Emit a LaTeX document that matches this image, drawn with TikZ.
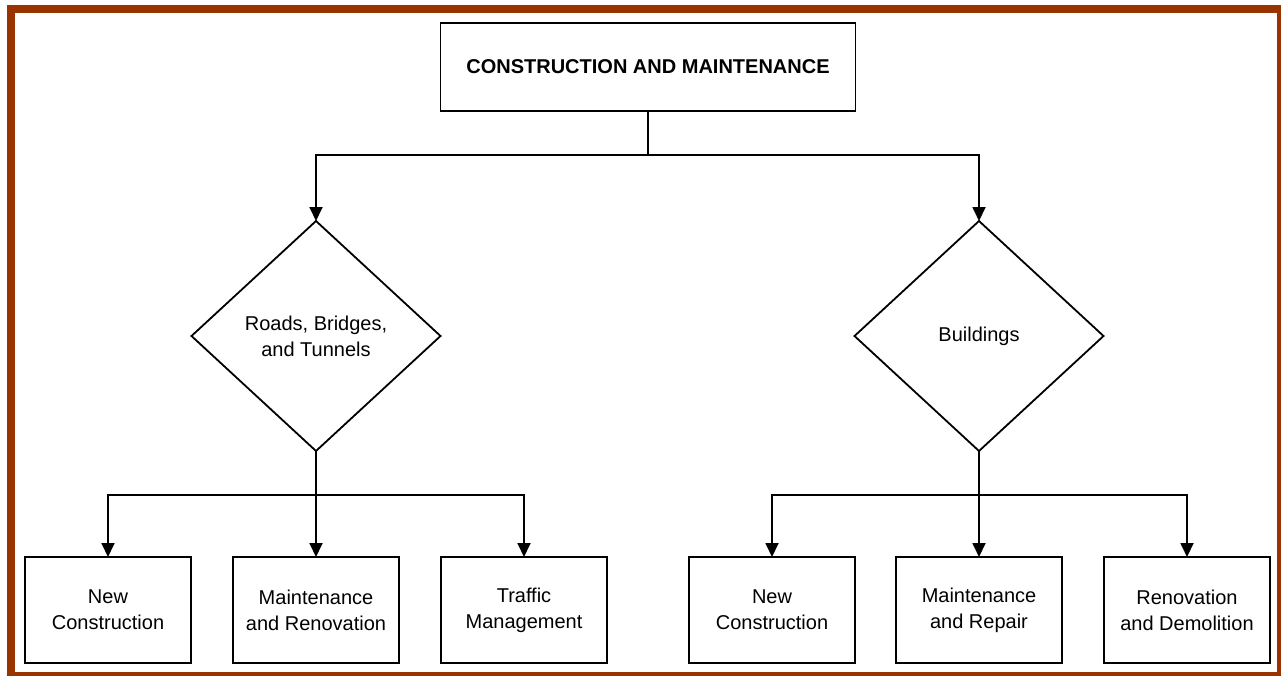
\documentclass[tikz,border=0pt]{standalone}
\usepackage{fontspec}
\setmainfont{Liberation Sans}
\usetikzlibrary{shapes.geometric, positioning, arrows.meta}
\definecolor{framebrown}{HTML}{993300}
\tikzset{
>={Triangle[width=13pt,length=14pt]},
every node/.append style={font=\fontsize{20}{26}\selectfont, align=center, outer sep=0pt},
box/.style={draw, line width=1.8pt, minimum width=166pt, minimum height=106pt, inner sep=0pt},
topbox/.style={draw, line width=1.8pt, minimum width=415pt, minimum height=88pt, font=\fontsize{20}{26}\selectfont\bfseries},
decision/.style={draw, diamond, line width=1.8pt, minimum width=249pt, minimum height=230pt, inner sep=0pt},
link/.style={line width=1.8pt},
}

\begin{document}
\begin{tikzpicture}[x=1pt, y=-1pt]
            \useasboundingbox (0,0) rectangle (1281,675);
            \draw[framebrown, line width=8pt] (11,9) rectangle (1281,676);

            \node[topbox] (top) at (648,67) {CONSTRUCTION AND MAINTENANCE};
            \node[decision] (roads) at (316,336) {Roads, Bridges,\\and Tunnels};
            \node[decision] (bldg) at (979,336) {Buildings};

            \node[box] (rnew) at (108,610) {New\\Construction};
            \node[box, right=42pt of rnew] (rmaint) {Maintenance\\and Renovation};
            \node[box, right=42pt of rmaint] (traffic) {Traffic\\Management};

            \node[box] (bnew) at (772,610) {New\\Construction};
            \node[box, right=41pt of bnew] (brep) {Maintenance\\and Repair};
            \node[box, right=42pt of brep] (bdemo) {Renovation\\and Demolition};

            \coordinate (tsplit) at (top.south |- 0,155);
            \coordinate (rsplit) at (roads.south |- 0,495);
            \coordinate (bsplit) at (bldg.south |- 0,495);

            % from the top box
            \draw[link] (top.south) -- (tsplit);
            \draw[link, ->] (tsplit) -| (roads.north);
            \draw[link, ->] (tsplit) -| (bldg.north);

            % from roads
            \draw[link] (roads.south) -- (rsplit);
            \draw[link, ->] (rsplit) -| (rnew.north);
            \draw[link, ->] (rsplit) -- (rmaint.north);
            \draw[link, ->] (rsplit) -| (traffic.north);

            % from buildings
            \draw[link] (bldg.south) -- (bsplit);
            \draw[link, ->] (bsplit) -| (bnew.north);
            \draw[link, ->] (bsplit) -- (brep.north);
            \draw[link, ->] (bsplit) -| (bdemo.north);
\end{tikzpicture}
\end{document}
